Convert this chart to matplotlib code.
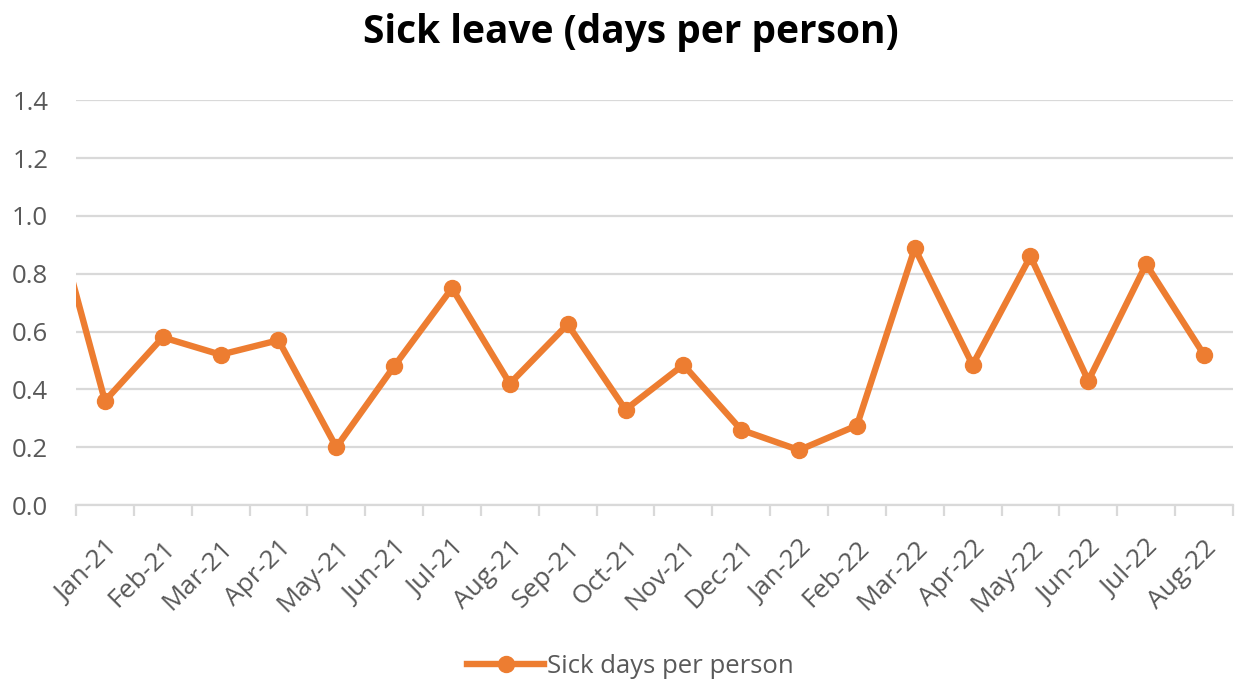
"""
Sick leave line chart (Excel style).
"""

import matplotlib
import numpy as np

matplotlib.use("Agg")
import matplotlib.pyplot as plt

# Dec-20 is only there so the line enters from the left edge, as in the source
months = [
    "Dec-20",
    "Jan-21", "Feb-21", "Mar-21", "Apr-21", "May-21", "Jun-21", "Jul-21",
    "Aug-21", "Sep-21", "Oct-21", "Nov-21", "Dec-21", "Jan-22", "Feb-22",
    "Mar-22", "Apr-22", "May-22", "Jun-22", "Jul-22", "Aug-22",
]
sick_days = [
    1.10,
    0.36, 0.58, 0.52, 0.57, 0.20, 0.48, 0.75,
    0.42, 0.625, 0.33, 0.485, 0.26, 0.19, 0.275,
    0.888, 0.485, 0.86, 0.43, 0.833, 0.52,
]
y_ticks = [0.0, 0.2, 0.4, 0.6, 0.8, 1.0, 1.2, 1.4]

ORANGE = "#ED7D31"
GRID = "#D9D9D9"
TEXT = "#595959"

plt.rcParams["font.family"] = ["Open Sans", "DejaVu Sans"]

fig = plt.figure(figsize=(12.36, 6.82), dpi=100)
ax = fig.add_axes([0.0615, 0.2595, 0.936, 0.5935])

x = np.arange(len(months)) - 1
line, = ax.plot(
    x, sick_days, color=ORANGE, linewidth=4.6, marker="o", markersize=11.5,
    label="Sick days per person", clip_on=True, solid_joinstyle="round",
)

ax.set_xlim(-0.5, len(months) - 1.5)
ax.set_ylim(0, 1.4)
ax.set_yticks(y_ticks)
ax.set_yticklabels([f"{v:.1f}" for v in y_ticks], fontsize=18.5, color=TEXT)
ax.yaxis.grid(True, color=GRID, linewidth=1.6)
ax.set_axisbelow(True)
ax.tick_params(axis="y", length=0, pad=20)

shown = months[1:]
ax.set_xticks(np.arange(len(shown)))
ax.set_xticklabels(shown, rotation=45, ha="right", rotation_mode="anchor",
                   fontsize=19, color=TEXT)
ax.tick_params(axis="x", which="major", length=0, pad=22)
ax.set_xticks(np.arange(len(shown) + 1) - 0.5, minor=True)
ax.tick_params(axis="x", which="minor", length=8, width=1.6, color=GRID, direction="out")

for side in ["top", "right", "left"]:
    ax.spines[side].set_visible(False)
ax.spines["bottom"].set_color(GRID)
ax.spines["bottom"].set_linewidth(1.6)

fig.text(0.51, 0.952, "Sick leave (days per person)", ha="center", va="center",
         fontsize=28, fontweight="bold", color="black")

fig.legend(handles=[line], loc="center", bbox_to_anchor=(0.51, 0.023), frameon=False,
           fontsize=18.5, labelcolor=TEXT, handlelength=3.0, handletextpad=0.1)

plt.savefig("out.png", dpi=100)
plt.close()
